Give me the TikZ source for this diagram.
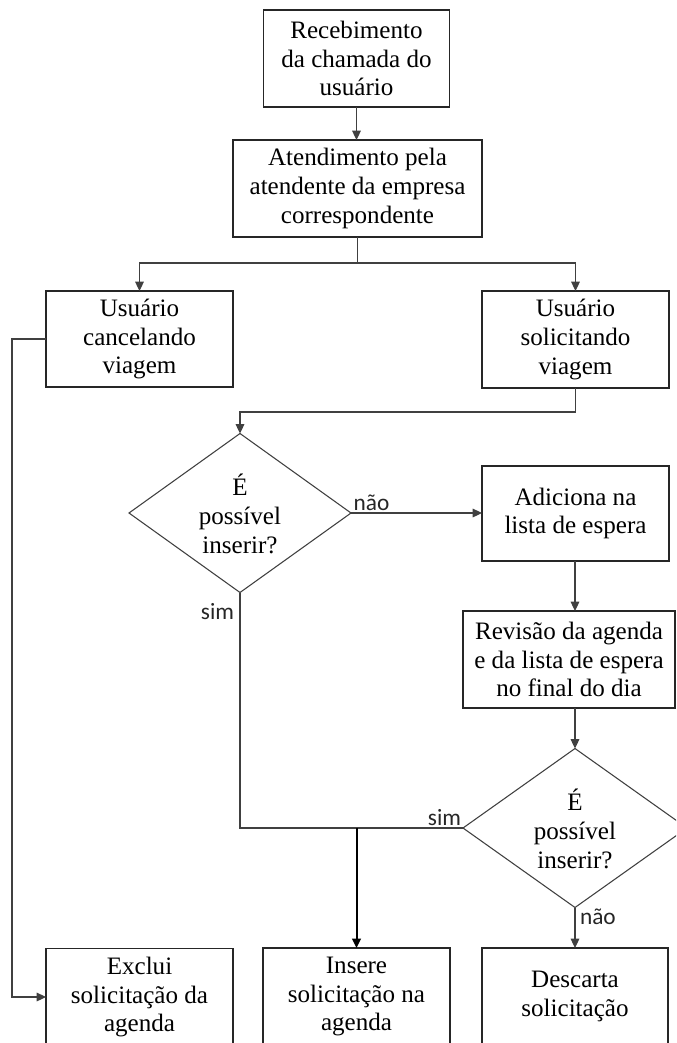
\documentclass[tikz,border=0pt]{standalone}
\usepackage{fontspec}
\setmainfont{Liberation Serif}
\newfontfamily\labelfont{Carlito}
\usetikzlibrary{arrows.meta,shapes.geometric}

\begin{document}
\begin{tikzpicture}[
  x=0.75pt, y=-0.75pt,
  every node/.style={inner sep=0pt, outer sep=0pt},
  stepbox/.style={draw=black!85, line width=0.9pt, rectangle, align=center,
    font=\fontsize{18.8}{21.6}\selectfont},
  decision/.style={draw=black!75, line width=0.8pt, diamond},
  decisiontext/.style={align=center, font=\fontsize{18.8}{21.6}\selectfont},
  flow/.style={draw=black!75, line width=0.8pt},
  arrowflow/.style={flow, -{Triangle[length=7pt,width=6.5pt]}},
  answer/.style={font=\labelfont\fontsize{17.5}{19}\selectfont, text=black!85},
]
\useasboundingbox (0,0) rectangle (676,1043);
\clip (0,0) rectangle (676,1043);
\fill[white] (0,0) rectangle (676,1043);

% process boxes
\node[stepbox, minimum width=140pt, minimum height=72.75pt] (rec) at (356.5,58.5)
  {Recebimento\\da chamada do\\usuário};
\node[stepbox, minimum width=186.75pt, minimum height=72.75pt] (ate) at (357.5,188.5)
  {Atendimento pela\\atendente da empresa\\correspondente};
\node[stepbox, minimum width=140.25pt, minimum height=72pt] (can) at (139.5,339)
  {Usuário\\cancelando\\viagem};
\node[stepbox, minimum width=140.25pt, minimum height=72.75pt] (sol) at (575.5,339.5)
  {Usuário\\solicitando\\viagem};
\node[stepbox, minimum width=140.25pt, minimum height=71.25pt] (add) at (575.5,513.5)
  {Adiciona na\\lista de espera};
\node[stepbox, minimum width=159pt, minimum height=72.75pt] (rev) at (569,659.5)
  {Revisão da agenda\\e da lista de espera\\no final do dia};
\node[stepbox, minimum width=140.25pt, minimum height=72.75pt] (exc) at (139.5,997)
  {Exclui\\solicitação da\\agenda};
\node[stepbox, minimum width=140.25pt, minimum height=72.75pt] (ins) at (356.5,996.5)
  {Insere\\solicitação na\\agenda};
\node[stepbox, minimum width=139.5pt, minimum height=72.75pt] (des) at (575,996.5)
  {Descarta\\solicitação};

% decisions
\node[decision, minimum width=166.5pt, minimum height=119.25pt] (d1) at (240,513) {};
\node[decisiontext] (d1t) at (240,514) {É\\possível\\inserir?};
\node[decision, minimum width=168pt, minimum height=119.25pt] (d2) at (575,828) {};
\node[decisiontext] (d2t) at (575,829) {É\\possível\\inserir?};

% junction points
\coordinate (split) at (357.5,263);
\coordinate (leftrail) at (12,339);
\coordinate (top1) at (575.5,412);
\coordinate (merge) at (356.5,828);

% connectors
\draw[arrowflow] (rec.south) -- (rec.south |- ate.north);
\draw[flow] (ate.south) -- (split);
\draw[arrowflow] (split) -| (can.north);
\draw[arrowflow] (split) -| (sol.north);
\draw[arrowflow] (can.west) -- (leftrail) |- (exc.west);
\draw[flow] (sol.south) -- (top1);
\draw[arrowflow] (top1) -| (d1.north);
\draw[arrowflow] (d1.east) -- (add.west |- d1.east);
\draw[arrowflow] (add.south -| d2.north) -- (rev.north -| d2.north);
\draw[arrowflow] (rev.south -| d2.north) -- (d2.north);
\draw[flow] (d1.south) |- (d2.west);
\draw[arrowflow, draw=black, line width=1.5pt] (merge) -- (ins.north);
\draw[arrowflow] (d2.south) -- (des.north);

% branch answers
\node[answer, anchor=south west] (n1) at ([xshift=2pt,yshift=2pt]d1.east) {não};
\node[answer, anchor=east] (s1) at (234,612) {sim};
\node[answer, anchor=south east] (s2) at ([xshift=-1.5pt,yshift=2pt]d2.west) {sim};
\node[answer, anchor=west] (n2) at (580,917) {não};
\end{tikzpicture}
\end{document}
